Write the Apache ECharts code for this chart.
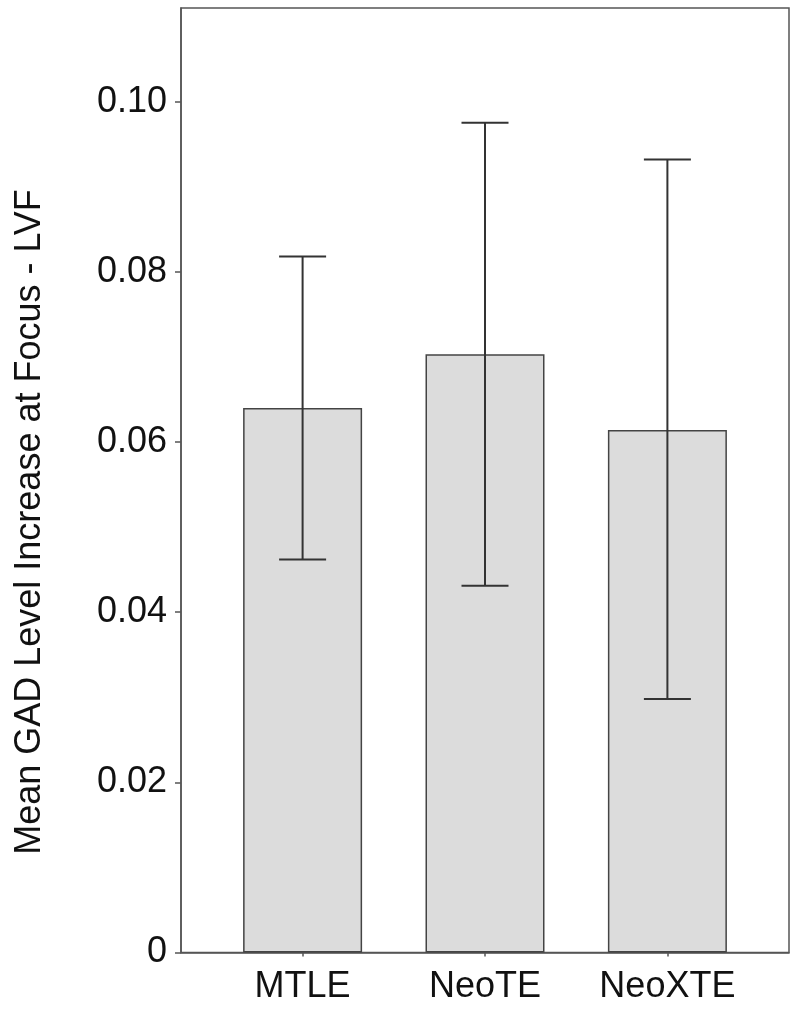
<!DOCTYPE html>
<html>
<head>
<meta charset="utf-8">
<script src="https://cdn.jsdelivr.net/npm/echarts@6/dist/echarts.min.js"></script>
<style>
  html, body { margin: 0; padding: 0; background: #fff; }
  #chart { width: 800px; height: 1011px; }
</style>
</head>
<body>
<div id="chart"></div>
<script>
// ---- data ----
const categories = ['MTLE', 'NeoTE', 'NeoXTE'];
const meanValues = [0.064, 0.0703, 0.0614];
const lowerValues = [0.0462, 0.0431, 0.0298];
const upperValues = [0.0818, 0.0975, 0.0932];
const yTicks = [0, 0.02, 0.04, 0.06, 0.08, 0.10];
const yTitle = 'Mean GAD Level Increase at Focus - LVF';

const catIdx = categories.map((c, i) => i);
const barData = categories.map((c, i) => [i, meanValues[i]]);
const errData = categories.map((c, i) => [i, lowerValues[i], upperValues[i]]);

const FONT = '"Liberation Sans", Arial, sans-serif';
const chart = echarts.init(document.getElementById('chart'), null, { renderer: 'canvas' });

chart.setOption({
  animation: false,
  backgroundColor: '#ffffff',
  grid: {
    left: 181, top: 8, right: 11, bottom: 58.5,
    show: true, borderColor: '#555', borderWidth: 1.5, backgroundColor: 'transparent'
  },
  xAxis: {
    type: 'value',
    min: -2 / 3, max: 8 / 3,
    axisLine: { show: true, onZero: false, lineStyle: { color: '#555', width: 1.5 } },
    axisTick: { show: true, customValues: catIdx, length: 4, lineStyle: { color: '#555', width: 1.5 } },
    axisLabel: {
      customValues: catIdx,
      formatter: v => categories[Math.round(v)],
      fontFamily: FONT, fontSize: 36, color: '#111', margin: 17
    },
    splitLine: { show: false }
  },
  yAxis: {
    type: 'value',
    min: 0, max: 0.111,
    axisLine: { show: true, onZero: false, lineStyle: { color: '#555', width: 1.5 } },
    axisTick: { show: true, customValues: yTicks, length: 6, lineStyle: { color: '#555', width: 1.5 } },
    axisLabel: {
      customValues: yTicks,
      formatter: v => (v === 0 ? '0' : v.toFixed(2)),
      fontFamily: FONT, fontSize: 36, color: '#111', margin: 14
    },
    splitLine: { show: false }
  },
  graphic: [{
    type: 'text',
    x: 30, y: 522,
    rotation: Math.PI / 2,
    style: {
      text: yTitle,
      font: '36px ' + FONT,
      fill: '#111',
      align: 'center',
      verticalAlign: 'middle'
    }
  }],
  series: [
    {
      type: 'bar',
      data: barData,
      barWidth: 119,
      itemStyle: { color: '#dcdcdc', borderColor: '#444', borderWidth: 1.5 }
    },
    {
      type: 'custom',
      data: errData,
      encode: { x: 0, y: [1, 2] },
      z: 5,
      renderItem: function (params, api) {
        const x = api.value(0);
        const lo = api.coord([x, api.value(1)]);
        const hi = api.coord([x, api.value(2)]);
        const hw = 23.5;
        const style = { stroke: '#333', lineWidth: 2 };
        return {
          type: 'group',
          children: [
            { type: 'line', shape: { x1: lo[0], y1: lo[1], x2: hi[0], y2: hi[1] }, style: style },
            { type: 'line', shape: { x1: lo[0] - hw, y1: lo[1], x2: lo[0] + hw, y2: lo[1] }, style: style },
            { type: 'line', shape: { x1: hi[0] - hw, y1: hi[1], x2: hi[0] + hw, y2: hi[1] }, style: style }
          ]
        };
      }
    }
  ]
});
</script>
</body>
</html>
